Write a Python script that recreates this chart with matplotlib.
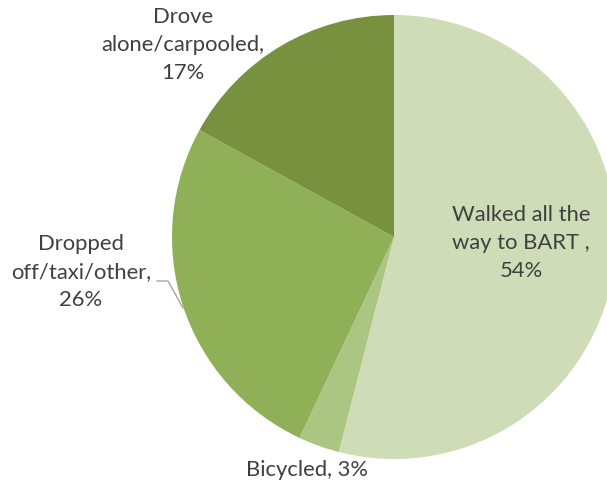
import matplotlib
matplotlib.use("Agg")
import matplotlib.pyplot as plt

categories = ["Walked all the\nway to BART ,", "Bicycled,", "Dropped\noff/taxi/other,", "Drove\nalone/carpooled,"]
values = [54, 3, 26, 17]
pct_labels = ["54%", "3%", "26%", "17%"]
colors = ["#cfdcb8", "#abc583", "#8fb056", "#77913f"]

W, H = 607, 490
fig = plt.figure(figsize=(W / 100, H / 100), dpi=100)
ax = fig.add_axes([0, 0, 1, 1])

cx, cy, r = 394, H - 237, 222
ax.pie(values, colors=colors, startangle=90, counterclock=False,
       center=(cx, cy), radius=r, frame=True,
       wedgeprops=dict(linewidth=0))
ax.set_xlim(0, W)
ax.set_ylim(0, H)
ax.set_aspect("equal")
ax.axis("off")

font = dict(family=["Lato", "DejaVu Sans"], fontsize=15.8, color="#404040",
            ha="center", va="center", multialignment="center", linespacing=1.5)

def lab(i):
    c = categories[i]
    if i == 1:
        return c + " " + pct_labels[i]
    return c + "\n" + pct_labels[i]

pos = [(521, 243), (307, 470), (81, 272), (183, 45)]
for i, (x, y) in enumerate(pos):
    ax.text(x, H - y, lab(i), **font)

# leader line for Dropped label
ax.plot([157, 168, 183], [H - 281, H - 281, H - 308], color="#a6a6a6", lw=1)

fig.savefig("out.png", dpi=100)
